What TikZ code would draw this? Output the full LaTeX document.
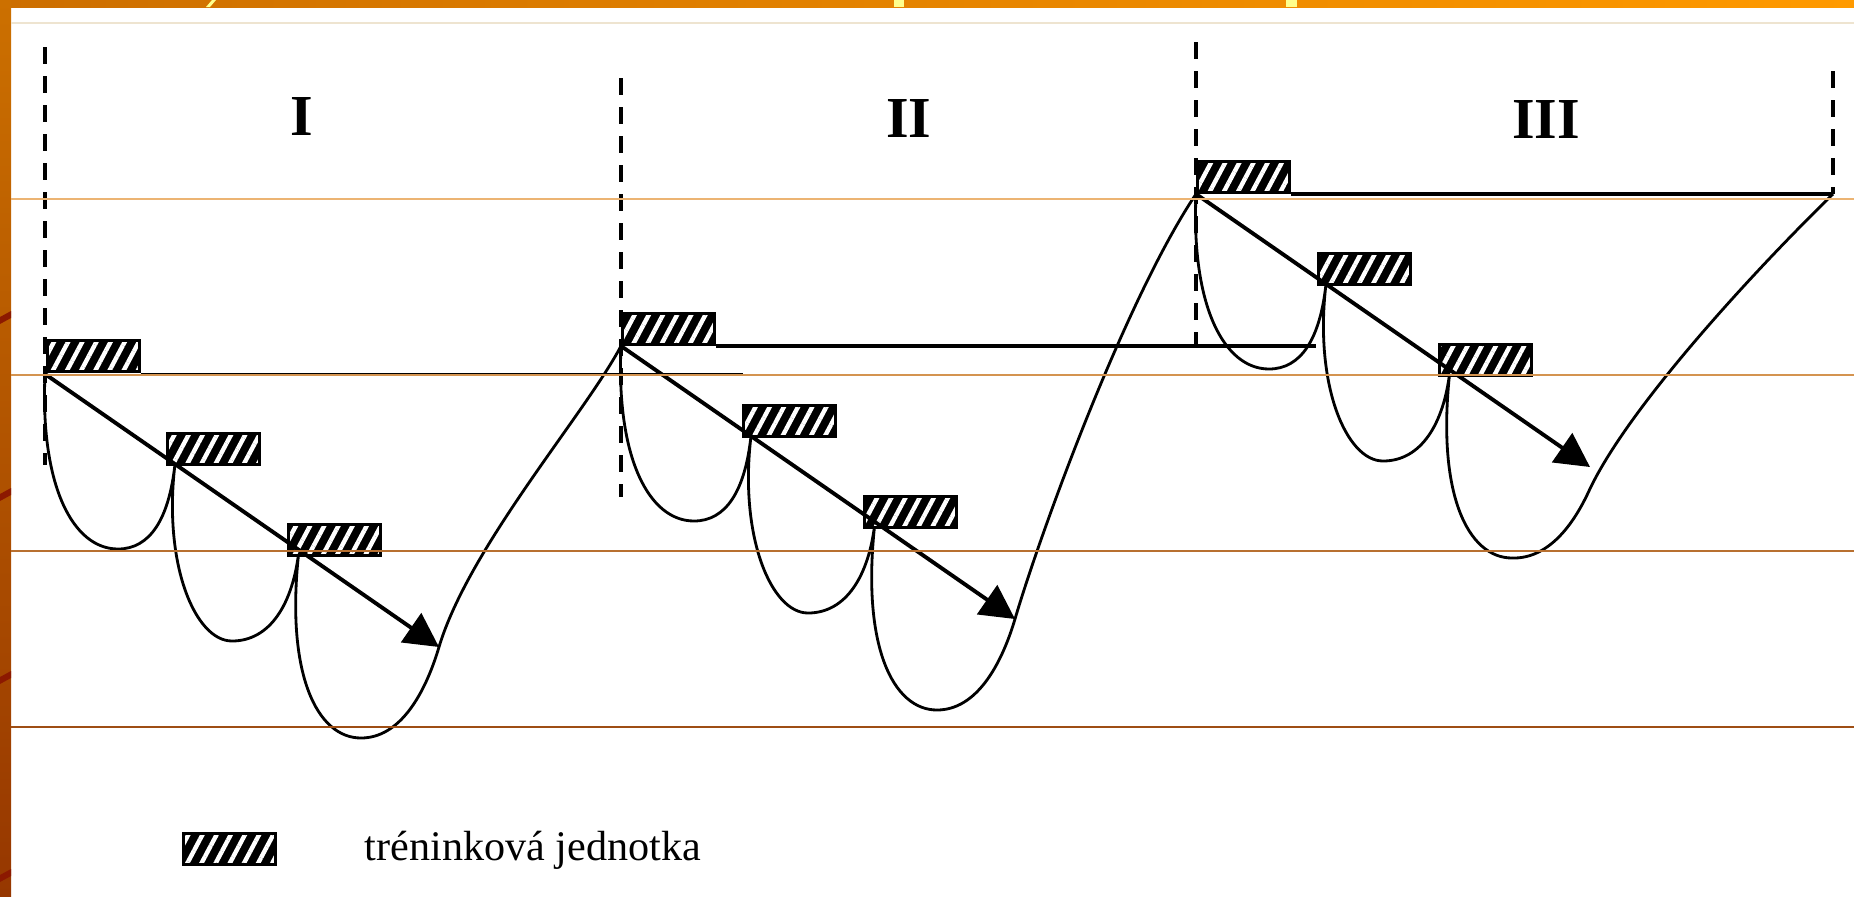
\documentclass[tikz,border=0pt]{standalone}
\usepackage{fontspec}
\setmainfont{Liberation Serif}
\usetikzlibrary{arrows.meta,patterns.meta}

\definecolor{bandleft}{RGB}{204,110,0}
\definecolor{bandright}{RGB}{255,154,0}
\definecolor{sidetop}{RGB}{204,112,0}
\definecolor{sidebottom}{RGB}{150,55,0}
\definecolor{streak}{RGB}{140,25,0}
\definecolor{flash}{RGB}{255,255,140}
\definecolor{rule0}{RGB}{238,228,208}
\definecolor{rule1}{RGB}{236,180,115}
\definecolor{rule2}{RGB}{212,148,80}
\definecolor{rule3}{RGB}{184,112,48}
\definecolor{rule4}{RGB}{158,78,20}

\tikzset{
  unitbox/.style={draw, line width=0.85pt, minimum width=9.2mm, minimum height=3.1mm, inner sep=0pt,
    preaction={fill=black}, pattern={Lines[angle=62,distance=1.25mm,line width=0.44mm]}, pattern color=white},
  wave/.style={line width=0.8pt},
  trend/.style={line width=1.1pt},
  divider/.style={line width=1.2pt, dash pattern=on 1.7mm off 1.2mm},
  numeral/.style={font=\fontsize{16.5}{20}\selectfont\bfseries},
  keytext/.style={font=\fontsize{12}{14}\selectfont, inner sep=0pt},
}

\begin{document}
\begin{tikzpicture}[x=0.1mm, y=-0.1mm, >={Triangle[length=3.4mm,width=3.5mm]}]
  \useasboundingbox (0,0) rectangle (1854,896);
  \fill[white] (0,0) rectangle (1854,896);

  % slide frame
  \shade[left color=bandleft, right color=bandright] (0,0) rectangle (1854,7);
  \shade[top color=sidetop, bottom color=sidebottom] (0,0) rectangle (11,896);
  \foreach \y in {313,490,673,871}
    \fill[streak] (0,\y+4) -- (11,\y-2) -- (11,\y+5) -- (0,\y+11) -- cycle;
  \fill[flash] (206,7) -- (210,7) -- (216,0) -- (212,0) -- cycle;
  \fill[flash] (894,0) rectangle (904,7);
  \fill[flash] (1286,0) rectangle (1297,7);

  % three periods
  \foreach \s/\ox/\oy/\hl/\lw/\dt/\db in {1/45/374/698/0.7pt/-327/91, 2/621/346/695/1.1pt/-268/151, 3/1196/194/637/1.1pt/-152/153}{
    \begin{scope}[shift={(\ox,\oy)}]
      \coordinate (o\s) at (0,0);
      \coordinate (k\s2) at (130,90);
      \coordinate (k\s3) at (254,176);
      \coordinate (t\s) at (394,273);
      \coordinate (b\s) at (316,364);
      \coordinate (h\s) at (\hl,0);
      \draw[divider] (0,\dt) -- (0,\db);
      \draw[wave] (o\s) .. controls (-5,112) and (28,175) .. (73,175) .. controls (105,175) and (124,145) .. (k\s2)
        .. controls (118,190) and (150,267) .. (187,267) .. controls (225,267) and (248,230) .. (k\s3)
        .. controls (240,300) and (272,364) .. (b\s);
      \node[unitbox, anchor=south west] (u\s1) at (o\s) {};
      \node[unitbox, anchor=south west] (u\s2) at (121,92) {};
      \node[unitbox, anchor=south west] (u\s3) at (242,183) {};
      \draw[line width=\lw] (u\s1.south east) -- (h\s);
      \draw[trend, ->] (o\s) -- (t\s);
    \end{scope}
  }

  % transitions between periods
  \draw[wave] (b1) .. controls (400,738) and (425,694) .. (t1) .. controls (469,547) and (585,414) .. (o2);
  \draw[wave] (b2) .. controls (976,710) and (1001,666) .. (t2) .. controls (1040,534) and (1125,300) .. (o3);
  \draw[wave] (b3) .. controls (1546,559) and (1571,529) .. (1588,493) .. controls (1626,409) and (1756,269) .. (h3);
  \draw[divider] (1833,71) -- (h3);

  \node[numeral] (r1) at (302,117) {I};
  \node[numeral] (r2) at (909,119) {II};
  \node[numeral] (r3) at (1546,120) {III};

  % legend
  \node[unitbox, anchor=south west] (key) at (182,866) {};
  \node[keytext, anchor=base west] (keylabel) at (364,860) {tréninková jednotka};

  % slide rules
  \foreach \y/\c in {23/rule0,199/rule1,375/rule2,551/rule3,727/rule4}
    \draw[\c, line width=0.45pt] (11,\y) -- (1854,\y);
\end{tikzpicture}
\end{document}
